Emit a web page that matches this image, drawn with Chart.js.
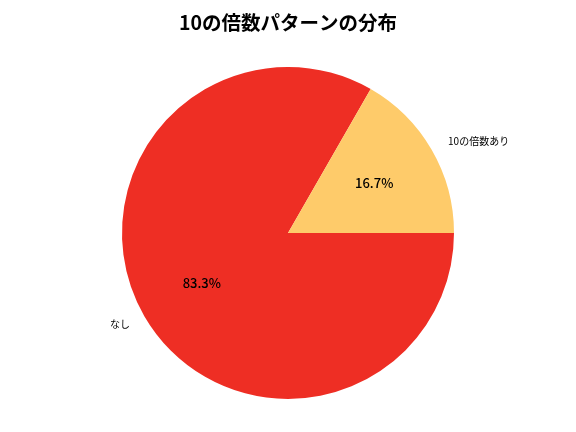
<!DOCTYPE html>
<html>
<head>
<meta charset="utf-8">
<script src="https://cdn.jsdelivr.net/npm/chart.js@4.4.1/dist/chart.umd.min.js"></script>
<style>
  html, body { margin: 0; padding: 0; background: #fff; }
  #wrap { width: 576px; height: 432px; }
</style>
</head>
<body>
<div id="wrap"><canvas id="pieChart" width="576" height="432"></canvas></div>
<script>
// chart data
const titleText = '10の倍数パターンの分布';
const labels = ['なし', '10の倍数あり'];
const values = [83.3, 16.7];
const colors = ['#EE2E24', '#FECB6A'];

const FONT = '"Noto Sans CJK JP", "Noto Sans", sans-serif';

// draws title, outer labels and percentages the way matplotlib places them
const pieText = {
  id: 'pieText',
  afterDraw(chart) {
    const ctx = chart.ctx;
    const arcs = chart.getDatasetMeta(0).data;
    const total = values.reduce((a, b) => a + b, 0);

    ctx.save();
    ctx.fillStyle = '#000';
    ctx.font = 'bold 19.5px ' + FONT;
    ctx.textAlign = 'center';
    ctx.textBaseline = 'middle';
    ctx.fillText(titleText, chart.width / 2, 23);

    arcs.forEach((arc, i) => {
      const mid = (arc.startAngle + arc.endAngle) / 2;
      const r = arc.outerRadius;
      const cx = Math.cos(mid), cy = Math.sin(mid);

      ctx.font = '10px ' + FONT;
      ctx.textAlign = cx >= 0 ? 'left' : 'right';
      ctx.fillText(labels[i], arc.x + cx * r * 1.1 + (cx >= 0 ? 2 : 0), arc.y + cy * r * 1.1);

      ctx.font = '500 13px ' + FONT;
      ctx.textAlign = 'center';
      const pct = (values[i] / total * 100).toFixed(1) + '%';
      ctx.fillText(pct, arc.x + cx * r * 0.6, arc.y + cy * r * 0.6);
    });
    ctx.restore();
  }
};

new Chart(document.getElementById('pieChart'), {
  type: 'pie',
  data: {
    labels: labels,
    datasets: [{
      data: values,
      backgroundColor: colors,
      borderWidth: 0
    }]
  },
  options: {
    responsive: false,
    animation: false,
    rotation: 90,
    layout: { padding: { top: 67, bottom: 33, left: 0, right: 0 } },
    plugins: {
      legend: { display: false },
      tooltip: { enabled: false },
      title: { display: false }
    }
  },
  plugins: [pieText]
});
</script>
</body>
</html>
